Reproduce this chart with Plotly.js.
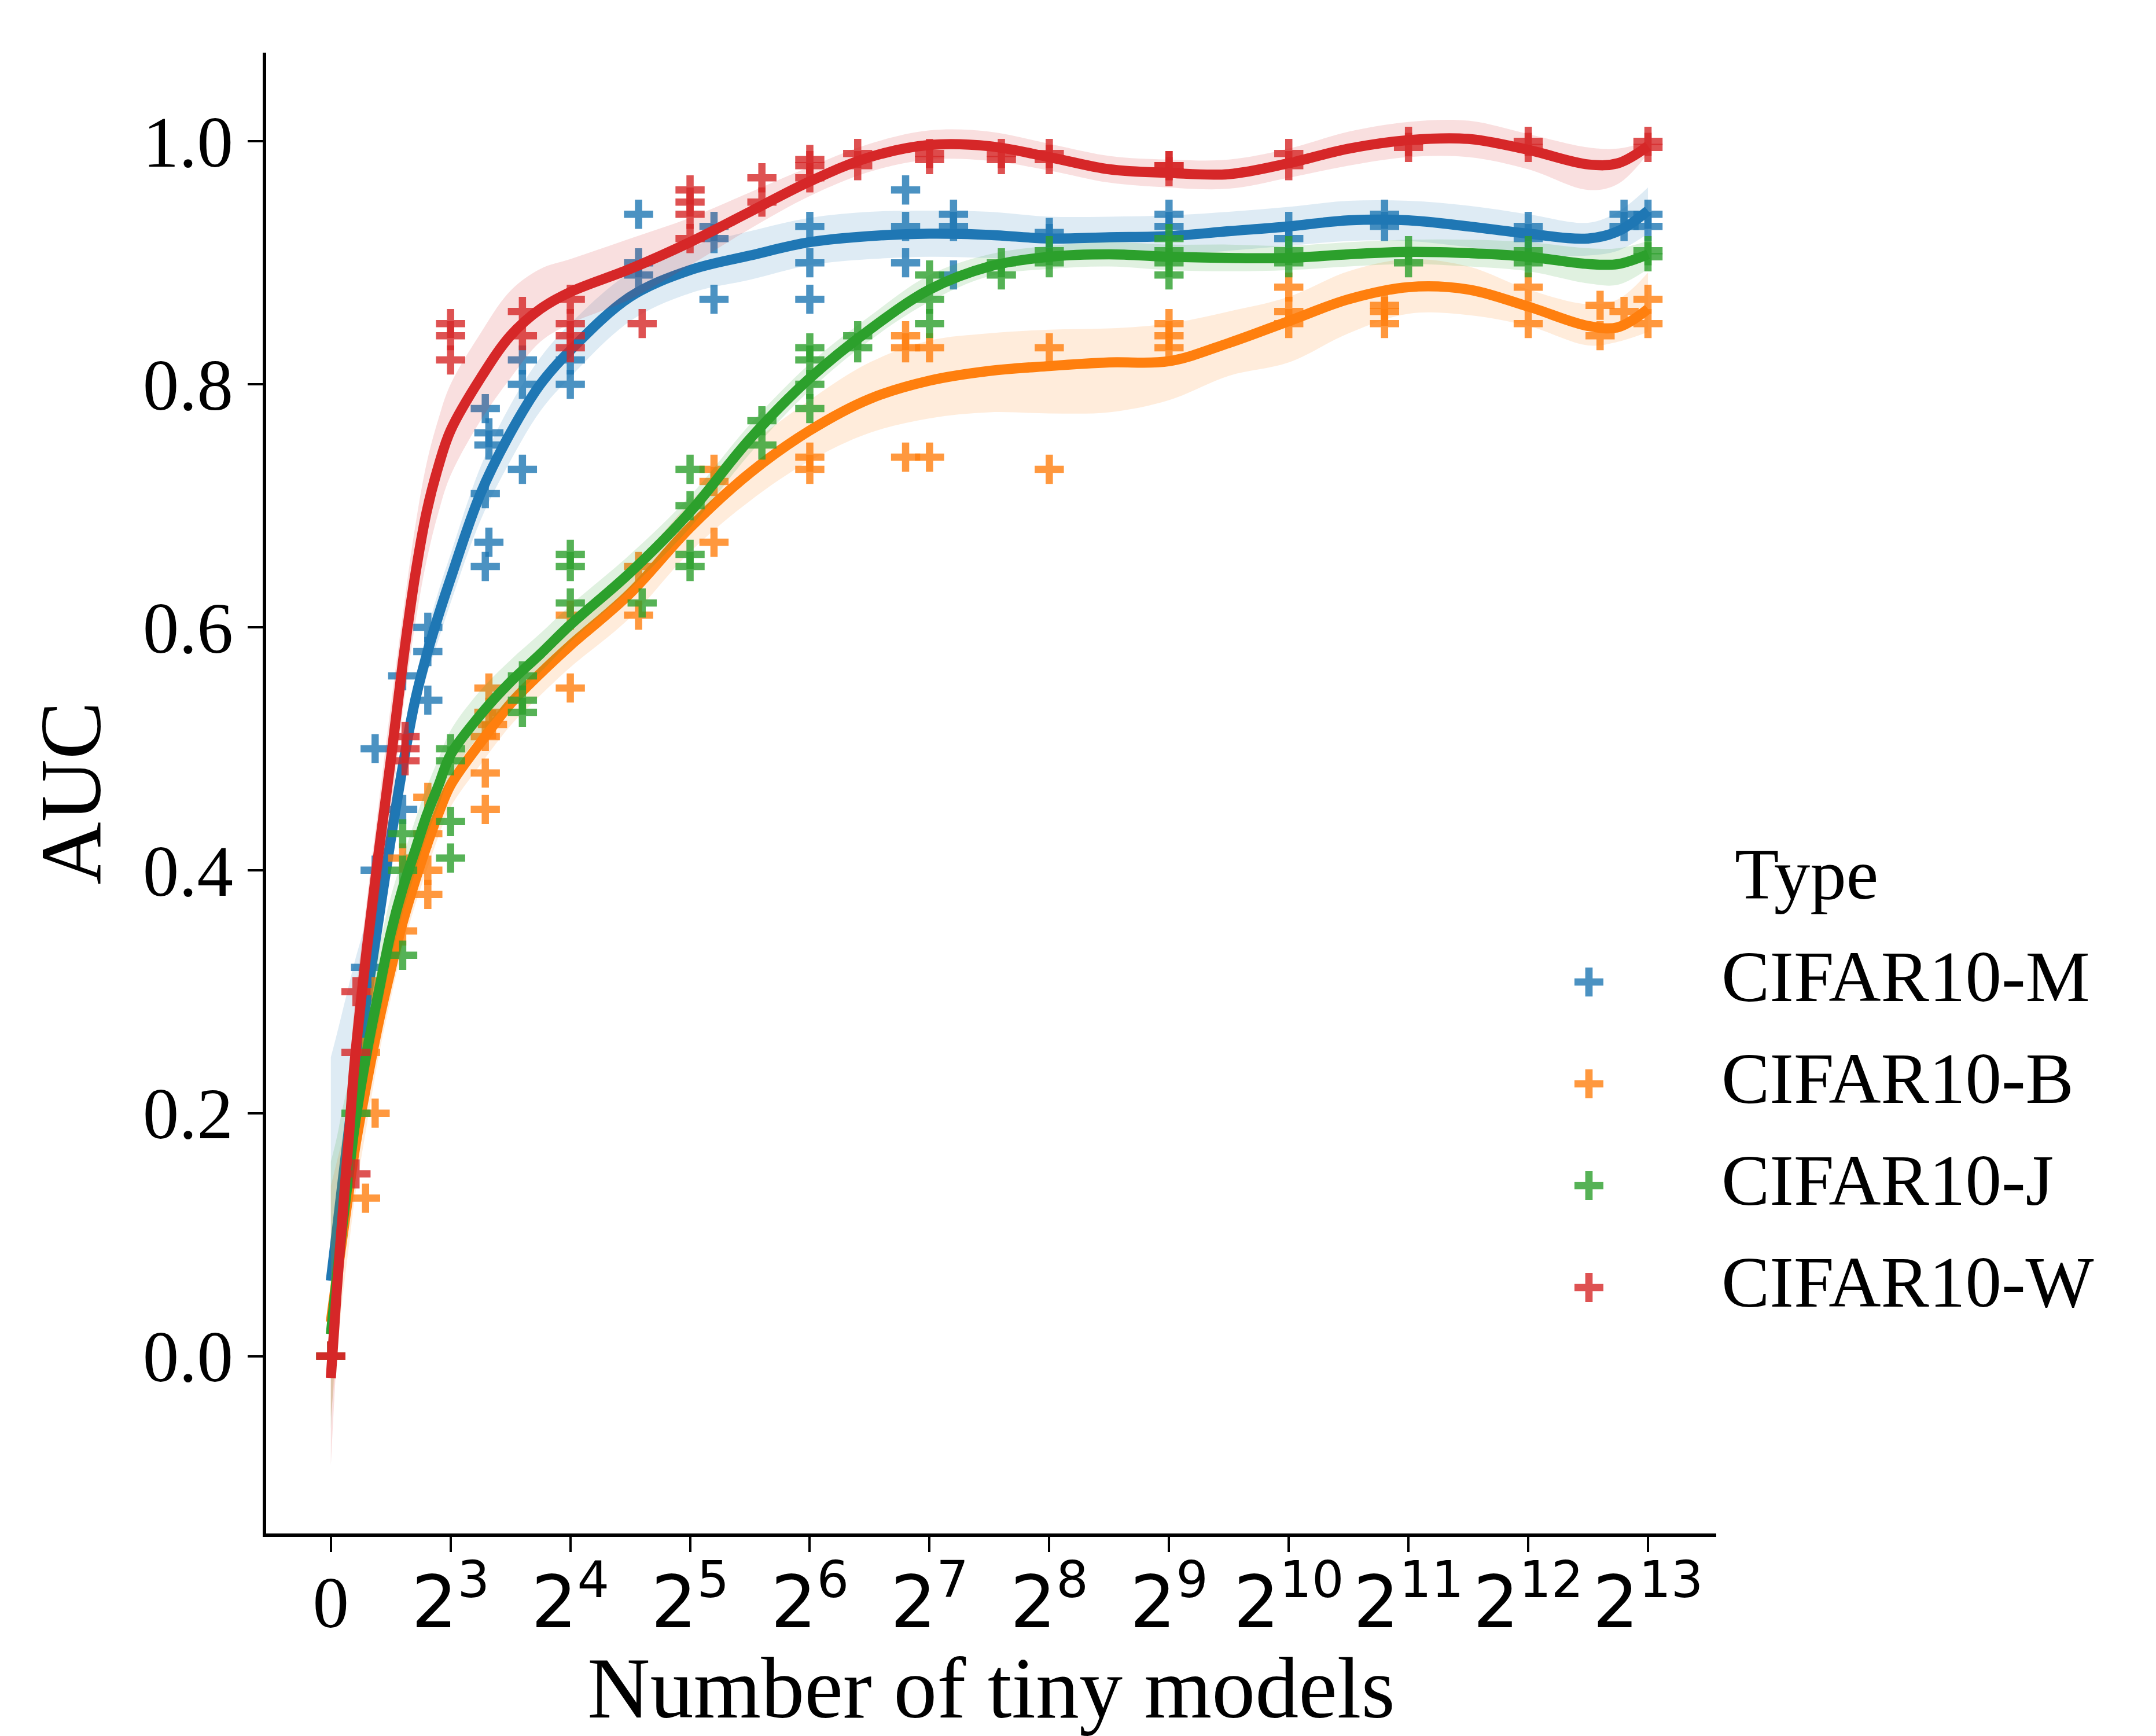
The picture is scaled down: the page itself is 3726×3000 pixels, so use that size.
<!DOCTYPE html>
<html><head><meta charset="utf-8">
<script src="https://cdn.plot.ly/plotly-3.0.1.min.js"></script>
<style>html,body{margin:0;padding:0;background:#fff}</style>
</head><body>
<div id="chart" style="width:3726px;height:3000px"></div>
<script>
// ---- axis: position on log2 axis (0 -> "0", k -> 2^(k+2)) ----
const xTickVals = [0,1,2,3,4,5,6,7,8,9,10,11];
const xTickExp  = [null,3,4,5,6,7,8,9,10,11,12,13];
const yTickVals = [0,0.2,0.4,0.6,0.8,1.0];

const legendTitle  = 'Type';
const seriesNames  = ['CIFAR10-M','CIFAR10-B','CIFAR10-J','CIFAR10-W'];
const seriesColors = ['#1f77b4','#ff7f0e','#2ca02c','#d62728'];
const bandColors   = ['rgba(31,119,180,0.15)','rgba(255,127,14,0.15)','rgba(44,160,44,0.15)','rgba(214,39,40,0.15)'];

// ---- scatter points ----
const ptsX_M = [0,0.29,0.37,0.37,0.60,0.60,0.81,0.81,0.81,1.29,1.29,1.29,1.32,1.32,1.32,1.6,1.6,1.6,2.0,2.0,2.57,2.57,2.57,3.2,3.2,3.2,4.0,4.0,4.0,4.8,4.8,4.8,5.2,5.2,5.2,6.0,6.0,7.0,7.0,8.0,8.0,8.8,8.8,10.0,10.0,10.8,10.8,11.0,11.0];
const ptsY_M = [0.0,0.32,0.50,0.40,0.56,0.45,0.60,0.58,0.54,0.78,0.71,0.65,0.76,0.75,0.67,0.82,0.80,0.73,0.82,0.80,0.94,0.90,0.89,0.93,0.92,0.87,0.93,0.90,0.87,0.96,0.93,0.90,0.94,0.93,0.89,0.925,0.92,0.94,0.93,0.93,0.92,0.94,0.93,0.93,0.92,0.94,0.93,0.94,0.93];

const ptsX_B = [0,0.29,0.29,0.37,0.37,0.60,0.60,0.81,0.81,0.81,0.81,1.29,1.29,1.29,1.32,1.32,1.35,2.0,2.0,2.57,2.57,3.2,3.2,3.2,4.0,4.0,4.8,4.8,4.8,5.0,5.0,6.0,6.0,7.0,7.0,7.0,8.0,8.0,8.0,8.8,8.8,8.8,10.0,10.0,10.6,10.6,10.8,11.0,11.0];
const ptsY_B = [0.0,0.25,0.13,0.20,0.30,0.41,0.35,0.46,0.43,0.40,0.38,0.51,0.48,0.45,0.55,0.53,0.52,0.61,0.55,0.65,0.61,0.73,0.72,0.67,0.74,0.73,0.84,0.83,0.74,0.83,0.74,0.83,0.73,0.85,0.84,0.83,0.88,0.86,0.85,0.865,0.86,0.85,0.88,0.85,0.865,0.84,0.86,0.87,0.85];

const ptsX_J = [0,0.21,0.60,0.60,0.60,1.0,1.0,1.0,1.0,1.6,1.6,1.6,2.0,2.0,2.0,2.6,3.0,3.0,3.0,3.0,3.6,3.6,4.0,4.0,4.0,4.0,4.4,4.4,5.0,5.0,5.0,5.6,5.6,6.0,6.0,7.0,7.0,7.0,7.0,8.0,8.0,9.0,9.0,10.0,10.0,11.0,11.0];
const ptsY_J = [0.0,0.20,0.43,0.40,0.33,0.50,0.49,0.44,0.41,0.56,0.54,0.53,0.66,0.65,0.62,0.62,0.73,0.70,0.66,0.65,0.77,0.75,0.83,0.82,0.80,0.78,0.84,0.83,0.89,0.87,0.85,0.90,0.89,0.91,0.90,0.92,0.91,0.90,0.89,0.91,0.90,0.91,0.90,0.91,0.90,0.91,0.905];

const ptsX_W = [0,0,0.21,0.21,0.21,0.62,0.62,0.62,1.0,1.0,1.0,1.6,1.6,2.0,2.0,2.0,2.0,2.6,3.0,3.0,3.0,3.0,3.6,3.6,4.0,4.0,4.0,4.4,4.4,5.0,5.0,5.6,5.6,6.0,6.0,7.0,7.0,7.0,8.0,8.0,9.0,9.0,10.0,10.0,11.0,11.0];
const ptsY_W = [0.0,0.0,0.30,0.25,0.15,0.51,0.50,0.49,0.85,0.84,0.82,0.86,0.84,0.87,0.85,0.84,0.83,0.85,0.96,0.95,0.94,0.92,0.97,0.95,0.985,0.98,0.97,0.99,0.98,0.99,0.985,0.99,0.985,0.99,0.985,0.98,0.98,0.975,0.99,0.98,1.0,0.995,1.0,0.995,1.0,0.995];

// ---- fitted curves and confidence bands (sampled) ----
const curveX = [0,0.05,0.1,0.15,0.2,0.3,0.4,0.5,0.6,0.7,0.8,0.9,1.0,1.25,1.5,1.75,2.0,2.5,3.0,3.5,4.0,4.5,5.0,5.5,6.0,6.5,7.0,7.5,8.0,8.5,9.0,9.5,10.0,10.5,10.75,11.0];

const fit_M = [0.062,0.103,0.145,0.186,0.226,0.295,0.36,0.425,0.485,0.538,0.577,0.61,0.64,0.71,0.76,0.80,0.828,0.872,0.894,0.906,0.917,0.922,0.924,0.923,0.92,0.921,0.922,0.926,0.93,0.935,0.935,0.93,0.924,0.92,0.926,0.943];
const hi_M  = [0.246,0.265,0.285,0.305,0.325,0.36,0.40,0.45,0.505,0.555,0.595,0.63,0.66,0.732,0.783,0.822,0.85,0.892,0.913,0.926,0.937,0.942,0.943,0.942,0.938,0.938,0.939,0.942,0.946,0.951,0.951,0.947,0.94,0.933,0.942,0.962];
const lo_M  = [-0.02,0.04,0.1,0.15,0.195,0.265,0.33,0.40,0.465,0.52,0.56,0.59,0.62,0.688,0.737,0.778,0.806,0.852,0.875,0.886,0.898,0.903,0.905,0.904,0.902,0.904,0.906,0.91,0.914,0.918,0.918,0.913,0.907,0.906,0.91,0.924];

const fit_B = [0.028,0.065,0.10,0.135,0.17,0.225,0.275,0.318,0.357,0.39,0.42,0.447,0.47,0.505,0.537,0.562,0.585,0.628,0.682,0.727,0.762,0.788,0.803,0.811,0.815,0.818,0.819,0.834,0.852,0.87,0.88,0.878,0.864,0.848,0.847,0.862];
const hi_B  = [0.14,0.16,0.18,0.2,0.22,0.26,0.303,0.342,0.378,0.41,0.44,0.466,0.488,0.523,0.555,0.58,0.603,0.647,0.703,0.75,0.787,0.818,0.836,0.842,0.845,0.846,0.85,0.86,0.872,0.893,0.903,0.897,0.878,0.866,0.87,0.892];
const lo_B  = [-0.05,0.0,0.05,0.09,0.13,0.19,0.247,0.294,0.336,0.37,0.40,0.428,0.452,0.487,0.519,0.544,0.567,0.608,0.662,0.704,0.737,0.76,0.772,0.777,0.776,0.777,0.787,0.807,0.818,0.842,0.858,0.857,0.848,0.832,0.835,0.843];

const fit_J = [0.018,0.065,0.11,0.15,0.19,0.25,0.30,0.348,0.385,0.415,0.445,0.47,0.495,0.528,0.555,0.578,0.602,0.645,0.695,0.755,0.805,0.845,0.878,0.897,0.905,0.907,0.905,0.904,0.904,0.907,0.909,0.908,0.905,0.899,0.899,0.907];
const hi_J  = [0.16,0.18,0.205,0.225,0.245,0.29,0.335,0.378,0.41,0.44,0.468,0.492,0.515,0.548,0.573,0.595,0.618,0.66,0.708,0.767,0.817,0.856,0.89,0.907,0.914,0.917,0.915,0.915,0.914,0.917,0.919,0.919,0.917,0.912,0.912,0.918];
const lo_J  = [-0.06,0.02,0.075,0.12,0.16,0.225,0.275,0.325,0.365,0.397,0.428,0.453,0.478,0.512,0.54,0.563,0.588,0.632,0.682,0.743,0.795,0.836,0.868,0.889,0.895,0.897,0.894,0.893,0.894,0.897,0.899,0.897,0.893,0.883,0.882,0.895];

const fit_W = [-0.018,0.055,0.118,0.18,0.243,0.335,0.415,0.49,0.57,0.64,0.695,0.733,0.762,0.805,0.84,0.862,0.876,0.895,0.917,0.942,0.967,0.987,0.997,0.996,0.987,0.977,0.974,0.973,0.982,0.994,1.001,1.002,0.993,0.981,0.982,0.996];
const hi_W  = [0.04,0.11,0.17,0.23,0.29,0.375,0.455,0.535,0.61,0.68,0.735,0.772,0.80,0.842,0.877,0.895,0.903,0.92,0.937,0.958,0.979,0.998,1.009,1.008,0.998,0.988,0.985,0.985,0.994,1.008,1.016,1.017,1.006,0.995,0.994,1.0];
const lo_W  = [-0.09,0.0,0.065,0.13,0.195,0.295,0.375,0.445,0.53,0.60,0.655,0.695,0.725,0.77,0.805,0.835,0.85,0.87,0.898,0.928,0.955,0.975,0.985,0.984,0.976,0.966,0.962,0.961,0.97,0.98,0.987,0.987,0.977,0.96,0.965,0.99];

const pointsX = [ptsX_M, ptsX_B, ptsX_J, ptsX_W];
const pointsY = [ptsY_M, ptsY_B, ptsY_J, ptsY_W];
const fits = [fit_M, fit_B, fit_J, fit_W];
const his  = [hi_M, hi_B, hi_J, hi_W];
const los  = [lo_M, lo_B, lo_J, lo_W];

const SERIF = 'Liberation Serif, Times New Roman, serif';
const traces = [];
for (let i = 0; i < 4; i++) {
  traces.push({
    type: 'scatter', mode: 'markers', name: seriesNames[i], showlegend: false,
    x: pointsX[i], y: pointsY[i],
    marker: {symbol: 'cross-thin', size: 36, color: seriesColors[i], opacity: 0.8,
             line: {width: 12.5, color: seriesColors[i]}},
    hoverinfo: 'skip'
  });
  traces.push({
    type: 'scatter', mode: 'lines', x: curveX, y: los[i], showlegend: false,
    line: {width: 0, color: 'rgba(0,0,0,0)', shape: 'spline'}, hoverinfo: 'skip'
  });
  traces.push({
    type: 'scatter', mode: 'lines', x: curveX, y: his[i], showlegend: false,
    fill: 'tonexty', fillcolor: bandColors[i],
    line: {width: 0, color: 'rgba(0,0,0,0)', shape: 'spline'}, hoverinfo: 'skip'
  });
  traces.push({
    type: 'scatter', mode: 'lines', x: curveX, y: fits[i], showlegend: false,
    line: {width: 17.5, color: seriesColors[i], shape: 'spline'}, hoverinfo: 'skip'
  });
}

const xTickText = xTickExp.map(e => e === null ? '0' :
  '<span style="font-family:DejaVu Sans">2<sup>' + e + '</sup></span>');

// ---- legend (drawn by hand so the handles keep the scatter marker size) ----
const W = 3726, H = 3000, ML = 460, MR = 760, MT = 91, MB = 350;
const PW = W - ML - MR, PH = H - MT - MB;
const px2x = px => (px - ML) / PW;
const px2y = py => 1 - (py - MT) / PH;
const LEG_HANDLE_X = 2746, LEG_TEXT_X = 2974, LEG_TITLE_X = 2997;
const LEG_TITLE_MID = 1511, LEG_ROW0_MID = 1688, LEG_ROW_STEP = 176, LEG_HANDLE_DY = 9;

const annotations = [{
  xref: 'paper', yref: 'paper', x: px2x(LEG_TITLE_X), y: px2y(LEG_TITLE_MID),
  xanchor: 'left', yanchor: 'middle', showarrow: false, text: legendTitle,
  font: {family: SERIF, size: 125, color: '#000'}, borderpad: 0
}];
const shapes = [];
seriesNames.forEach((name, i) => {
  const mid = LEG_ROW0_MID + i * LEG_ROW_STEP;
  annotations.push({
    xref: 'paper', yref: 'paper', x: px2x(LEG_TEXT_X), y: px2y(mid),
    xanchor: 'left', yanchor: 'middle', showarrow: false, text: name,
    font: {family: SERIF, size: 125, color: '#000'}, borderpad: 0
  });
  shapes.push({
    type: 'path', xref: 'paper', yref: 'paper',
    xsizemode: 'pixel', ysizemode: 'pixel',
    xanchor: px2x(LEG_HANDLE_X), yanchor: px2y(mid + LEG_HANDLE_DY),
    path: 'M-25,0L25,0M0,-25L0,25',
    line: {color: seriesColors[i], width: 12.7}, opacity: 0.8, layer: 'above'
  });
});

const layout = {
  width: W, height: H,
  margin: {l: ML, r: MR, t: MT, b: MB, pad: 0},
  paper_bgcolor: '#ffffff', plot_bgcolor: '#ffffff',
  font: {family: SERIF, size: 125, color: '#000000'},
  showlegend: false,
  xaxis: {
    range: [-0.54, 11.57], tickvals: xTickVals, ticktext: xTickText,
    showgrid: false, zeroline: false, showline: true, linecolor: '#000', linewidth: 6,
    ticks: 'outside', ticklen: 26, tickwidth: 4, tickcolor: '#000',
    ticklabelstandoff: -20,
    tickfont: {family: SERIF, size: 125, color: '#000'},
    title: {text: 'Number of tiny models', font: {family: SERIF, size: 150, color: '#000'}, standoff: 80}
  },
  yaxis: {
    range: [-0.146, 1.073], tickvals: yTickVals, tickformat: '.1f',
    showgrid: false, zeroline: false, showline: true, linecolor: '#000', linewidth: 6,
    ticks: 'outside', ticklen: 26, tickwidth: 4, tickcolor: '#000',
    tickfont: {family: SERIF, size: 125, color: '#000'},
    title: {text: 'AUC', font: {family: SERIF, size: 150, color: '#000'}, standoff: 24}
  },
  annotations: annotations,
  shapes: shapes
};

Plotly.newPlot('chart', traces, layout, {displayModeBar: false, staticPlot: true});
</script>
</body></html>
